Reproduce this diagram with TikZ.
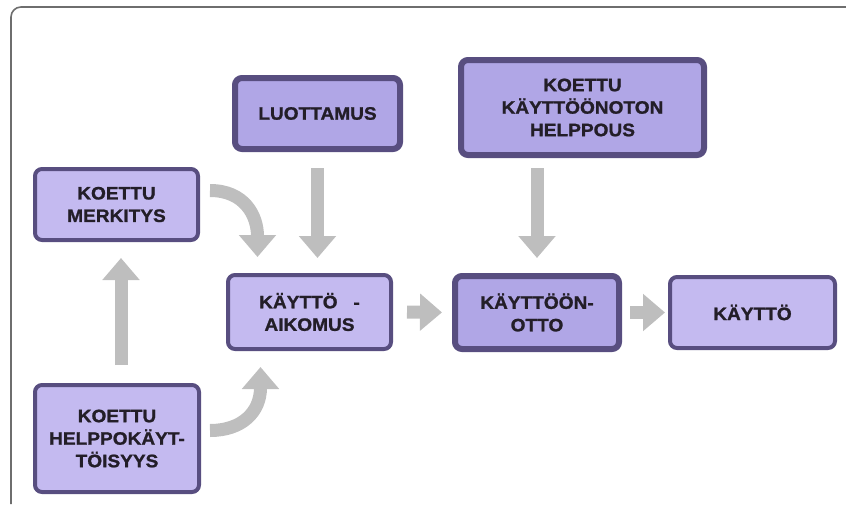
\documentclass[tikz,border=0pt]{standalone}
\usepackage{fontspec}
\setmainfont{Liberation Sans}[FakeStretch=1.06, BoldFeatures={FakeBold=1.2}]
\usetikzlibrary{arrows.meta}
\definecolor{boxfill}{RGB}{176,166,230}
\definecolor{boxfilllight}{RGB}{196,186,240}
\definecolor{boxline}{RGB}{88,78,128}
\definecolor{arrowgray}{RGB}{190,190,190}
\definecolor{framegray}{RGB}{110,110,110}
\definecolor{textdark}{RGB}{35,30,40}
\begin{document}
\begin{tikzpicture}[x=1pt,y=-1pt,
  box/.style={draw=boxline, rounded corners=7pt, align=center, inner sep=0pt,
    text=textdark, font=\bfseries\fontsize{18}{22.5}\selectfont},
  thinbox/.style={box, line width=4pt, fill=boxfilllight},
  thickbox/.style={box, line width=6pt, fill=boxfill},
  blk/.style={draw=arrowgray, line width=13pt, -{Triangle[width=36pt,length=22pt]}}]
\useasboundingbox (0,0) rectangle (846,506);
\draw[framegray, line width=1.6pt, rounded corners=10pt] (11,504) -- (11,7) -- (846,7);

\node[thinbox, minimum width=163pt, minimum height=71pt] (mer) at (116.5,204.5) {KOETTU\\MERKITYS};
\node[thinbox, minimum width=164pt, minimum height=107pt] (hel) at (117,438.5) {KOETTU\\HELPPOKÄYT-\\TÖISYYS};
\node[thickbox, minimum width=165pt, minimum height=71pt] (luo) at (317.5,113.5) {LUOTTAMUS};
\node[thinbox, minimum width=163pt, minimum height=74pt] (ka) at (309.5,312) {KÄYTTÖ\ \ \ -\\AIKOMUS};
\node[thickbox, minimum width=243pt, minimum height=95pt] (kkh) at (582.5,107.5) {KOETTU\\KÄYTTÖÖNOTON\\HELPPOUS};
\node[thickbox, minimum width=164pt, minimum height=73pt] (ko) at (537,312.5) {KÄYTTÖÖN-\\OTTO};
\node[thinbox, minimum width=165pt, minimum height=71pt] (kay) at (752.5,312.5) {KÄYTTÖ};

\draw[blk, shorten <=18pt, shorten >=16pt] ([xshift=4pt]hel.north) -- ([xshift=4pt]hel.north |- mer.south);
\draw[blk, shorten <=16pt, shorten >=15pt] (luo.south) -- (luo.south |- ka.north);
\draw[blk, shorten <=10pt, shorten >=15pt] (ko.north |- kkh.south) -- (ko.north);
\draw[blk, shorten <=14pt, shorten >=10pt] (ka.east) -- (ko.west);
\draw[blk, shorten <=8pt, shorten >=3pt] (ko.east) -- (kay.west);
\draw[blk] ([xshift=10pt,yshift=14pt]mer.east) .. controls +(34,0) and +(0,-42) .. ([xshift=-52pt,yshift=16pt]ka.north);
\draw[blk] ([xshift=9pt,yshift=8pt]hel.east) .. controls +(32,0) and +(0,45) .. ([xshift=-49pt,yshift=-16pt]ka.south);
\end{tikzpicture}
\end{document}
